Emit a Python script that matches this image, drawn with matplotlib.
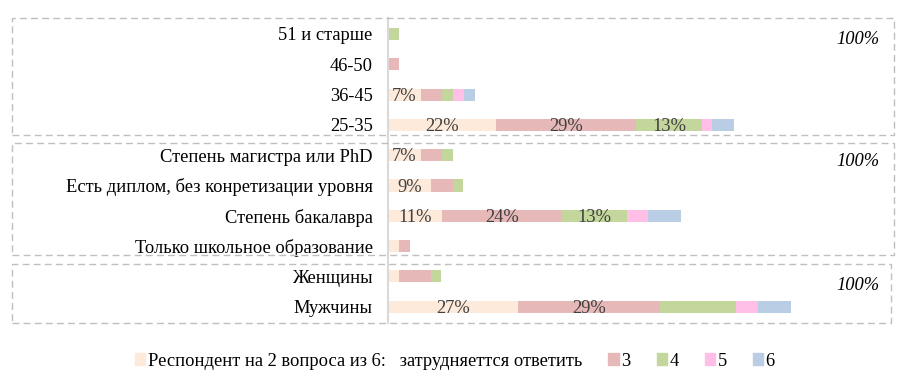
import numpy as np
import matplotlib.pyplot as plt
from matplotlib.patches import Rectangle, Patch

plt.rcParams['font.family'] = ['Liberation Serif', 'DejaVu Serif']

# categories, top to bottom
cats = ["51 и старше", "46-50", "36-45", "25-35",
        "Степень магистра или PhD", "Есть диплом, без конретизации уровня",
        "Степень бакалавра", "Только школьное образование",
        "Женщины", "Мужчины"]

# shares (%) of respondents per number of answered questions
s2 = [0, 0, 6.7, 22, 6.7, 8.8, 11, 2.2, 2.2, 26.5]
s3 = [0, 2.2, 4.4, 28.7, 4.4, 4.4, 24.4, 2.2, 6.5, 29]
s4 = [2.2, 0, 2.2, 13.3, 2.2, 2.2, 13.3, 0, 2.2, 15.5]
s5 = [0, 0, 2.2, 2.2, 0, 0, 4.4, 0, 0, 4.5]
s6 = [0, 0, 2.2, 4.4, 0, 0, 6.7, 0, 0, 6.7]

lab2 = ["", "", "7%", "22%", "7%", "9%", "11%", "", "", "27%"]
lab3 = ["", "", "", "29%", "", "", "24%", "", "", "29%"]
lab4 = ["", "", "", "13%", "", "", "13%", "", "", ""]

names = ["Респондент на 2 вопроса из 6:   затрудняеттся ответить", "3", "4", "5", "6"]
colors = ["#FDEADA", "#E6B9B8", "#C3D69B", "#FFBFE6", "#B9CDE5"]

W, H = 902, 380
fs = 13.3
fig = plt.figure(figsize=(W/100, H/100), dpi=100)

# axes in pixel layout
x0, x1, y0, y1 = 388, 894, 18, 323
ax = fig.add_axes([x0/W, 1-y1/H, (x1-x0)/W, (y1-y0)/H])

y = np.arange(len(cats))
series = [s2, s3, s4, s5, s6]
labels = [lab2, lab3, lab4, None, None]
left = np.zeros(len(cats))
for vals, col, labs in zip(series, colors, labels):
    vals = np.array(vals)
    ax.barh(y, vals, left=left, height=0.4, color=col, edgecolor='none')
    if labs:
        for i, t in enumerate(labs):
            if t:
                ax.text(left[i] + vals[i]/2, y[i] + 0.05, t, ha='center', va='center',
                        fontsize=fs, color='#404040')
    left += vals

ax.set_xlim(0, (x1-x0)/4.9)
unit = 30.3
ax.set_ylim(9 + (y1 - 306.7)/unit, -(34 - y0)/unit)
ax.set_yticks(y)
ax.set_yticklabels(cats, fontsize=fs)
ax.tick_params(axis='y', length=0, pad=11)
ax.set_xticks([])
for s in ['top', 'right', 'bottom']:
    ax.spines[s].set_visible(False)
ax.spines['left'].set_color('#D9D9D9')
ax.spines['left'].set_linewidth(1.5)
ax.patch.set_alpha(0)

# dashed group frames
boxes = [(12, 18, 894, 135), (12, 143, 894, 255), (12, 264, 891, 323)]
for bx0, by0, bx1, by1 in boxes:
    fig.add_artist(Rectangle((bx0/W, 1-by1/H), (bx1-bx0)/W, (by1-by0)/H,
                             transform=fig.transFigure, fill=False,
                             edgecolor='#BFBFBF', linestyle=(0, (5, 3)), linewidth=1))

for py in [39, 162, 285]:
    fig.text(879/W, 1-py/H, "100%", ha='right', va='center', style='italic', fontsize=fs)

handles = [Patch(color=c) for c in colors]
fig.legend(handles, names, loc='center', bbox_to_anchor=(455/W, 1-361/H), ncol=5,
           frameon=False, fontsize=fs, handlelength=0.55, handleheight=0.55,
           handletextpad=0.15, columnspacing=1.4)

fig.savefig('out.png', dpi=100)
